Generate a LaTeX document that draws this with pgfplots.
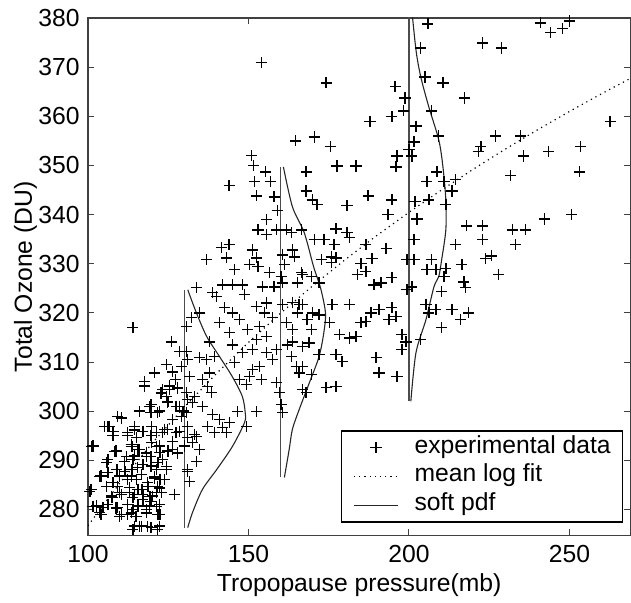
\documentclass[border=0pt]{standalone}
\usepackage{fontspec}
\setmainfont{Liberation Sans}
\usepackage{pgfplots}
\pgfplotsset{compat=1.18}
\pgfplotsset{
  linelegend/.style={legend image code/.code={\draw[##1] (0bp,0bp) -- (22bp,0bp);}},
  markslegend/.style={legend image code/.code={\path (0bp,0bp) (22bp,0bp); \draw[##1] plot coordinates {(11bp,0bp)};}},
}
\begin{document}
\fontsize{12.4}{14.5}\selectfont
\begin{tikzpicture}
\begin{axis}[
  name=ax,
  scale only axis,
  width=271.5bp, height=259bp,
  xmin=100, xmax=269, ymin=274.7, ymax=380,
  xtick={100,150,200,250},
  ytick={280,290,...,380},
  tick align=inside,
  major tick length=3bp,
  axis line style={black!75, line width=0.6bp},
  tick style={black!75, line width=0.5bp},
  /pgf/number format/assume math mode=true,
  xticklabel style={anchor=base, yshift=-13.5bp, inner sep=0pt},
  yticklabel style={anchor=east, inner sep=0pt, xshift=-4bp},
  xlabel={Tropopause pressure(mb)},
  ylabel={Total Ozone (DU)},
  xlabel style={at={(rel axis cs:0.5,0)}, anchor=base, yshift=-28bp, inner sep=0pt},
  ylabel style={at={(rel axis cs:0,0.5)}, anchor=base, yshift=28bp, inner sep=0pt},
  legend cell align=left,
  legend style={at={(rel axis cs:0.987,0.025)}, anchor=south east,
    draw=black, line width=0.6bp, inner xsep=6bp, inner ysep=1bp,
    column sep=8bp, row sep=0pt,
    nodes={inner xsep=0pt, inner ysep=1.5bp, text height=8.5bp, text depth=3bp}},
]
% experimental data
\addplot[only marks, mark=+, mark size=2.8bp, mark options={line width=0.7bp, black}, markslegend]
coordinates {
(154.0,370.9) (164.6,355.0) (170.5,355.8) (151.0,352.0) (151.6,350.0) (155.3,348.7)
(168.0,348.7) (151.9,346.7) (144.0,345.9) (156.8,346.7) (168.0,344.8) (152.5,343.8)
(158.0,343.6) (169.9,343.0) (159.0,340.8) (155.6,339.0) (153.0,336.9) (155.6,335.9)
(158.7,336.9) (161.8,336.9) (163.4,336.3) (166.5,336.9) (170.5,334.9) (144.0,333.9)
(141.6,333.3) (137.0,330.8) (143.2,331.2) (145.7,328.8) (151.2,332.8) (152.5,331.2)
(150.3,329.8) (153.0,329.4) (156.5,328.2) (160.6,331.8) (163.7,332.8) (164.3,331.4)
(161.2,329.8) (160.2,327.4) (166.5,328.2) (169.6,327.4) (142.0,325.7) (145.0,325.7)
(148.1,325.7) (154.3,325.3) (158.0,325.3) (160.6,326.1) (165.2,326.1) (133.8,325.1)
(138.8,324.1) (148.8,323.7)
(205.9,378.8) (241.0,379.0) (244.1,377.0) (247.8,377.8) (250.0,379.4) (223.0,374.9)
(228.9,373.9) (203.7,373.9) (174.2,366.8) (195.7,366.0) (205.0,368.0) (210.6,366.8)
(217.4,363.7) (198.8,363.7) (198.4,361.1) (194.7,359.9) (187.9,358.9) (207.1,361.1)
(202.2,358.0) (262.7,358.9) (175.5,353.8) (209.3,356.0) (227.0,356.0) (234.8,356.0)
(222.4,353.8) (221.7,352.8) (235.7,351.9) (243.5,352.8) (253.4,353.8) (253.1,348.7)
(231.7,347.9) (201.6,354.8) (200.0,353.2) (200.9,351.9) (196.3,351.9) (196.0,349.7)
(177.6,349.9) (183.5,349.9) (208.7,348.7) (205.6,346.7) (210.9,346.7) (214.6,347.1)
(213.4,344.8) (171.4,342.0) (180.7,341.8) (187.3,343.8) (194.7,343.0) (201.9,342.6)
(206.2,343.0) (211.5,342.0) (193.5,340.0) (202.5,339.1) (177.3,337.1) (180.7,336.3)
(173.6,334.9) (176.7,333.9) (181.4,335.3) (186.6,333.9) (192.9,333.1) (201.6,334.9)
(214.6,333.9) (223.0,334.9) (218.0,337.7) (223.0,337.7) (232.3,336.9) (236.3,336.9)
(233.2,333.9) (242.2,339.1) (250.6,340.0) (225.8,331.6) (223.9,331.0) (228.0,327.8)
(216.5,329.8) (207.1,330.8) (201.6,330.8) (199.4,330.8) (199.4,324.7) (200.9,325.3)
(210.2,324.3) (217.7,325.1) (217.1,326.3) (211.5,329.0) (210.9,327.4) (205.6,328.8)
(208.4,328.8) (194.7,327.2) (191.3,326.1) (188.5,331.0) (185.1,330.0) (183.9,327.8)
(186.6,328.4) (177.3,331.2) (175.8,331.4) (172.7,330.8) (175.8,330.2) (172.0,326.1)
(166.8,327.8) (189.1,325.7)
(166.8,321.7) (176.1,321.7) (181.4,321.7) (188.2,320.0) (190.7,320.7) (194.7,321.1)
(196.0,319.2) (193.8,318.6) (205.3,321.7) (208.4,320.7) (213.4,320.7) (216.1,318.6)
(218.6,320.0) (210.2,317.0) (206.2,320.0) (169.9,320.0) (172.0,319.6) (175.2,318.0)
(178.3,315.6) (181.4,314.9) (183.5,315.2) (185.1,318.0) (186.6,318.2) (197.8,315.6)
(199.1,314.1) (197.8,312.5) (203.7,314.6) (189.8,310.9) (190.7,307.8) (196.3,307.0)
(166.8,313.1) (168.9,313.9) (172.0,311.5) (177.3,311.5) (179.2,310.1) (166.8,309.1)
(169.6,307.4) (174.2,304.8) (177.3,305.0) (168.0,303.8)
(114.0,317.0) (101.2,292.8) (100.6,283.7) (106.2,296.9) (109.3,298.9) (107.8,295.9)
(103.7,286.7) (101.6,280.6) (103.7,279.4) (104.7,280.4) (105.9,289.6) (108.4,291.8)
(109.0,288.1) (107.8,285.5) (109.9,283.5) (107.5,282.4) (109.3,280.4) (109.9,278.6)
(112.4,286.1) (112.4,295.7) (114.6,296.9) (115.2,294.7) (113.7,292.8) (116.1,292.2)
(112.1,290.8) (114.0,290.2) (117.1,289.1) (118.3,290.8) (115.5,288.5) (113.7,288.1)
(111.5,287.7) (115.2,286.1) (113.0,284.5) (116.8,284.1) (114.0,282.4) (117.1,282.0)
(118.3,280.0) (114.0,280.0) (115.2,278.6) (112.4,279.0) (116.1,276.5) (114.0,275.9)
(118.6,276.5) (122.4,279.0) (121.7,275.9) (119.9,296.9) (121.4,295.7) (123.3,295.7)
(119.9,293.6) (121.4,292.8) (122.4,291.6) (119.6,290.8) (123.3,290.2) (124.5,288.7)
(121.4,288.1) (120.8,286.7) (122.4,286.1) (121.7,284.7) (121.4,283.5) (123.0,283.5)
(119.3,282.6) (127.0,283.0) (119.6,281.6) (121.4,280.6) (118.6,285.5) (119.6,299.7)
(121.7,299.7) (117.7,306.0) (120.8,307.8) (119.3,301.0) (124.5,309.5) (126.1,314.1)
(126.4,308.0) (123.3,304.4) (125.5,304.4) (124.5,303.0) (124.8,301.7) (126.4,298.3)
(124.8,296.3) (126.4,293.8) (126.4,292.2) (128.6,295.9) (129.2,298.9) (128.6,301.0)
(127.3,306.4) (129.2,309.1) (128.6,312.1) (130.7,312.1) (131.1,310.5) (131.7,307.0)
(130.7,303.8) (132.6,301.7) (130.7,299.7) (131.1,296.9) (133.8,294.9) (133.8,289.8)
(134.8,292.2) (132.6,293.6) (131.1,287.7) (131.7,285.7) (130.7,317.2) (132.3,319.0)
(134.8,320.0) (140.1,323.3) (142.5,321.1) (145.0,320.0) (140.9,318.0) (137.9,314.1)
(134.8,310.9) (137.0,310.5) (139.4,311.1) (137.9,307.8) (135.7,306.4) (137.3,305.0)
(138.5,303.8) (135.7,301.0) (138.8,299.3) (140.9,298.3) (137.3,296.9) (139.4,295.7)
(141.9,296.7) (144.1,297.7) (143.2,295.7) (146.6,299.9) (152.5,299.9) (149.4,296.9)
(147.2,306.4) (149.4,305.4) (145.7,309.9) (148.1,311.9) (145.0,313.5) (149.7,316.6)
(147.2,318.6) (144.1,316.0) (152.5,321.3) (155.6,322.0) (155.0,320.0) (157.5,319.0)
(153.4,317.2) (155.6,315.2) (152.5,314.6) (151.2,312.5) (155.6,311.9) (157.5,310.5)
(153.4,309.1) (151.2,308.5) (150.3,307.0) (154.0,306.4) (158.7,305.8) (160.2,301.3)
(160.6,299.7) (159.6,303.8) (158.7,312.5) (162.1,313.5) (163.7,314.1) (163.4,311.1)
(164.9,309.1) (165.8,307.8) (166.8,304.4) (163.7,316.6) (165.2,320.0) (168.3,318.6)
(169.6,316.6) (161.8,318.0) (160.6,321.7) (163.7,322.1) (165.8,321.7)
(117.6,305.1) (122.8,303.7) (125.4,305.1) (128.0,304.7) (119.7,301.3) (122.3,300.0)
(124.9,302.0) (127.5,301.0) (129.6,300.0) (131.1,302.4) (133.2,303.0) (116.1,300.0)
(110.4,298.6) (106.7,296.9) (105.2,296.9) (107.8,295.0) (114.5,296.2) (112.4,295.0)
(117.1,295.9) (119.7,295.0) (123.9,296.3) (127.5,295.6) (131.1,294.6) (133.2,295.2)
(101.6,292.9) (108.8,291.9) (113.5,293.2) (115.6,292.2) (118.2,291.5) (122.3,292.9)
(124.9,291.9) (128.0,291.5) (130.1,292.9) (106.2,290.2) (111.4,289.8) (114.5,290.9)
(119.7,288.8) (121.8,289.5) (124.4,288.1) (131.1,288.1) (104.1,286.8) (106.2,287.5)
(109.9,286.8) (113.5,286.8) (116.6,287.1) (120.7,286.4) (123.9,286.1) (101.0,284.1)
(105.7,284.7) (109.3,284.7) (113.0,283.4) (115.6,284.1) (118.7,284.7) (122.3,284.4)
(107.3,282.7) (110.4,283.1) (114.5,283.1) (117.1,283.1) (120.2,282.7) (127.0,283.1)
(102.6,280.7) (106.2,281.0) (108.8,280.3) (112.4,281.0) (115.6,280.7) (119.2,280.7)
(122.3,281.0) (104.1,279.0) (110.4,279.0) (113.5,279.3) (115.0,278.6) (118.2,279.3)
(121.8,279.0) (114.5,276.6) (116.6,276.6) (119.7,276.3) (122.3,276.6) (119.2,274.6)
};
\addlegendentry{experimental data}
% mean log fit
\addplot[black, line width=0.6bp, dash pattern=on 0.6bp off 2bp, linelegend] coordinates {
(100,276.68) (110,285.44) (120,293.45) (130,300.81) (140,307.63) (150,313.98)
(160,319.92) (170,325.49) (180,330.75) (190,335.73) (200,340.45) (210,344.93)
(220,349.21) (230,353.30) (240,357.22) (250,360.97) (260,364.58) (270,368.05)
};
\addlegendentry{mean log fit}
% soft pdf
\addplot[black!85, line width=0.55bp, smooth, tension=0.5, linelegend] coordinates {
(131.1,324.7) (133.8,320.0) (137.0,315.2) (141.0,311.1) (145.0,307.0) (148.1,303.0)
(149.0,299.7) (148.8,297.7) (145.0,292.8) (140.1,288.1) (135.7,284.1) (132.6,279.4) (131.1,276.3)
};
\addlegendentry{soft pdf}
\addplot[forget plot, black!70, line width=0.7bp] coordinates {(130,276.3) (130,324.7)};
\addplot[forget plot, black!85, line width=0.55bp, smooth, tension=0.5] coordinates {
(160.9,349.7) (163.7,341.6) (167.4,336.3) (170.3,329.4) (172.5,325.0) (174.0,320.0)
(173.5,316.0) (172.0,311.1) (169.0,305.8) (165.8,300.3) (163.7,296.3) (162.7,292.2) (161.2,286.5)
};
\addplot[forget plot, black!70, line width=0.7bp] coordinates {(160,286.5) (160,349.7)};
\addplot[forget plot, black!85, line width=0.55bp, smooth, tension=0.5] coordinates {
(200.7,383.0) (202.2,373.5) (203.7,368.0) (206.2,361.9) (209.3,355.2) (210.6,349.7)
(211.5,343.0) (211.5,336.9) (210.2,330.8) (209.3,327.4) (207.8,325.3) (205.3,318.6)
(202.2,311.9) (200.6,302.0)
};
\addplot[forget plot, black!70, line width=0.7bp] coordinates {(200,302.0) (200,385)};
\end{axis}
\pgfresetboundingbox
\path[use as bounding box] ([xshift=-44bp,yshift=-33.5bp]ax.south west) rectangle ([xshift=0.3bp,yshift=9bp]ax.north east);
\end{tikzpicture}
\end{document}
